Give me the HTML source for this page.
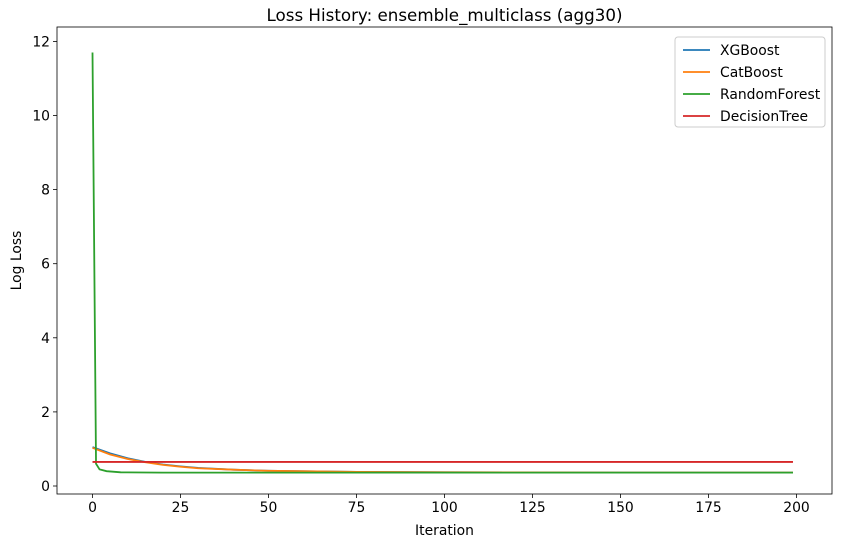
<!DOCTYPE html>
<html><head><meta charset="utf-8"><style>
body{margin:0;background:#fff;font-family:"Liberation Sans","DejaVu Sans",sans-serif}
svg text{font-family:"DejaVu Sans","Liberation Sans",sans-serif}
</style></head><body>
<svg id="c" width="841" height="547" xmlns="http://www.w3.org/2000/svg"></svg>
<script>
const xTicks=[0,25,50,75,100,125,150,175,200];
const yTicks=[0,2,4,6,8,10,12];
const seriesNames=["XGBoost","CatBoost","RandomForest","DecisionTree"];
const seriesColors=["#1f77b4","#ff7f0e","#2ca02c","#d62728"];
const xgbIter=[0,5,10,15,20,25,30,40,50,75,100,150,199];
const xgbLoss=[1.05,0.88,0.75,0.65,0.58,0.53,0.49,0.44,0.41,0.38,0.37,0.36,0.36];
const catIter=[0,5,10,15,20,25,30,40,50,75,100,150,199];
const catLoss=[1.03,0.85,0.73,0.64,0.57,0.52,0.48,0.44,0.41,0.38,0.37,0.36,0.36];
const rfIter=[0,1,2,4,8,20,50,100,199];
const rfLoss=[11.7,0.6,0.45,0.4,0.37,0.36,0.36,0.36,0.36];
const dtIter=[0,199];
const dtLoss=[0.65,0.65];
const NS="http://www.w3.org/2000/svg";
const svg=document.getElementById('c');
const L=57,R=832,T=27,B=494;
const X=v=>92.5+v*3.52;
const Y=v=>486-v*37.05;
function mk(t,a,p){const e=document.createElementNS(NS,t);for(const k in a)e.setAttribute(k,a[k]);(p||svg).appendChild(e);return e;}
function txt(s,a){const e=mk('text',a);e.textContent=s;return e;}
xTicks.forEach(v=>{
 const l=mk('line',{x1:X(v),x2:X(v),y1:B,y2:B+4,stroke:'#000','stroke-width':0.8});
 
 const t=txt(String(v),{x:X(v),y:B+18,'text-anchor':'middle','font-size':13.9});
 
});
yTicks.forEach(v=>{
 const l=mk('line',{x1:L-4,x2:L,y1:Y(v),y2:Y(v),stroke:'#000','stroke-width':0.8});
 
 const t=txt(String(v),{x:L-7,y:Y(v)+5,'text-anchor':'end','font-size':13.9});
 
});
const data=[[xgbIter,xgbLoss],[catIter,catLoss],[rfIter,rfLoss],[dtIter,dtLoss]];
data.forEach((d,i)=>{
 const pts=d[0].map((x,j)=>X(x)+','+Y(d[1][j])).join(' ');
 const p=mk('polyline',{points:pts,fill:'none',stroke:seriesColors[i],'stroke-width':1.8});
 
 
});
const f=mk('rect',{x:L,y:T,width:R-L,height:B-T,fill:'none',stroke:'#000','stroke-width':0.8});

const ti=txt('Loss History: ensemble_multiclass (agg30)',{x:(L+R)/2,y:21,'text-anchor':'middle','font-size':16.7});

const xl=txt('Iteration',{x:(L+R)/2,y:535,'text-anchor':'middle','font-size':13.9});

const yl=txt('Log Loss',{x:0,y:0,'text-anchor':'middle','font-size':13.9,transform:'translate(21,'+((T+B)/2)+') rotate(-90)'});

const lg=mk('rect',{x:675,y:37,width:150,height:90,fill:'#fff',stroke:'#ccc',rx:3});

seriesNames.forEach((n,i)=>{
 const y=50+i*22;
 const l=mk('line',{x1:683,x2:710,y1:y,y2:y,stroke:seriesColors[i],'stroke-width':1.8});
 
 const t=txt(n,{x:720,y:y+5,'font-size':13.9});
 
});
</script>
</body></html>
